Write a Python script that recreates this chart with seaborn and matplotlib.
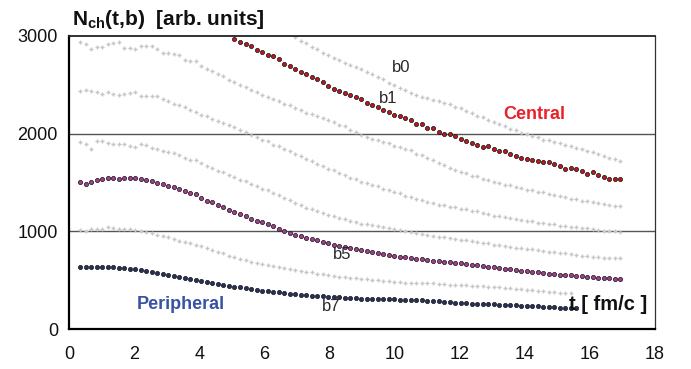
import numpy as np
import pandas as pd
import matplotlib
matplotlib.use("Agg")
import matplotlib.pyplot as plt
import seaborn as sns

# time grid in fm/c, one entry per dot
t = np.linspace(0.34, 16.94, 99)

# N_ch(t,b) for the impact parameter classes.
# b0 and b1 start above 3000 and only enter the frame later (start index).
b0_start = 39
b0 = [2990, 2950, 2925, 2885, 2862, 2826, 2805, 2774, 2758, 2727,
      2708, 2680, 2663, 2631, 2613, 2578, 2558, 2520, 2498, 2468,
      2452, 2418, 2398, 2372, 2362, 2343, 2336, 2316, 2300, 2272,
      2258, 2228, 2215, 2186, 2170, 2138, 2123, 2094, 2080, 2050,
      2038, 2010, 1998, 1973, 1965, 1940, 1933, 1910, 1903, 1881,
      1875, 1853, 1845, 1821, 1812, 1787, 1776, 1750, 1740, 1718]

b1_start = 28
b1 = [2973, 2939, 2922, 2902, 2861, 2837, 2810, 2792, 2762, 2717,
      2690, 2666, 2629, 2615, 2581, 2564, 2530, 2489, 2462, 2437,
      2421, 2400, 2376, 2352, 2315, 2298, 2274, 2240, 2223, 2189,
      2186, 2165, 2138, 2104, 2094, 2063, 2056, 2018, 2001, 1994,
      1977, 1950, 1930, 1909, 1889, 1861, 1872, 1838, 1824, 1820,
      1793, 1772, 1752, 1741, 1731, 1725, 1715, 1705, 1691, 1674,
      1636, 1646, 1636, 1616, 1592, 1603, 1572, 1555, 1537, 1537, 1534]

b2 = [2939, 2922, 2864, 2887, 2887, 2922, 2928, 2939, 2881, 2881,
      2871, 2894, 2894, 2894, 2871, 2830, 2826, 2820, 2802, 2751,
      2741, 2741, 2693, 2666,
      2640, 2606, 2588, 2552, 2530, 2498, 2480, 2448, 2430, 2396,
      2378, 2350, 2334, 2302, 2290, 2258, 2244, 2216, 2204, 2176,
      2164, 2136, 2122, 2090, 2074, 2040, 2022, 1988, 1970, 1948,
      1936, 1912, 1902, 1878, 1868, 1840, 1828, 1796, 1780, 1748,
      1730, 1696, 1680, 1648, 1630, 1606, 1596, 1570, 1562, 1536,
      1526, 1506, 1498, 1476, 1470, 1450, 1442, 1425, 1420, 1402,
      1398, 1380, 1376, 1358, 1352, 1334, 1330, 1315, 1310, 1296,
      1292, 1278, 1272, 1262, 1255]

b3 = [2434, 2452, 2434, 2427, 2410, 2427, 2410, 2393, 2410, 2417,
      2424, 2386, 2383, 2383, 2383, 2359, 2335, 2301, 2291, 2274,
      2247, 2223, 2189, 2179,
      2152, 2128, 2114, 2086, 2070, 2038, 2020, 1988, 1970, 1938,
      1920, 1888, 1872, 1840, 1824, 1792, 1774, 1742, 1724, 1692,
      1674, 1642, 1624, 1593, 1578, 1548, 1536, 1506, 1494, 1470,
      1460, 1437, 1427, 1402, 1390, 1366, 1356, 1330, 1320, 1298,
      1290, 1272, 1268, 1252, 1248, 1230, 1226, 1208, 1204, 1186,
      1180, 1162, 1160, 1142, 1138, 1122, 1118, 1104, 1102, 1088,
      1086, 1072, 1070, 1058, 1055, 1044, 1042, 1032, 1030, 1020,
      1018, 1008, 1006, 1000, 995]

b4 = [1916, 1892, 1848, 1923, 1923, 1906, 1899, 1892, 1899, 1872,
      1865, 1892, 1882, 1858, 1844, 1824, 1810, 1803, 1780, 1746,
      1729, 1729, 1701, 1667,
      1648, 1618, 1604, 1572, 1558, 1526, 1512, 1480, 1468, 1436,
      1424, 1390, 1374, 1340, 1324, 1288, 1272, 1244, 1230, 1204,
      1192, 1166, 1156, 1136, 1126, 1106, 1098, 1080, 1074, 1060,
      1054, 1040, 1034, 1020, 1014, 1000, 994, 980, 974, 962,
      956, 944, 940, 928, 924, 912, 908, 898, 892, 880,
      876, 864, 860, 848, 844, 834, 830, 820, 816, 806,
      802, 792, 788, 778, 774, 764, 760, 752, 748, 740,
      736, 730, 728, 724, 722]

b5 = [1503, 1480, 1503, 1524, 1534, 1551, 1544, 1537, 1547, 1551,
      1541, 1534, 1521, 1517, 1497, 1480, 1466, 1452, 1432, 1415,
      1394, 1381, 1345,
      1312, 1296, 1268, 1245, 1220, 1197, 1173, 1156, 1125, 1108,
      1094, 1074, 1050, 1023, 1002, 982, 961, 951, 934, 917,
      907, 893, 877, 862, 849, 839, 832, 818, 808, 795,
      784, 777, 764, 757, 747, 739, 733, 723, 716, 713, 706,
      700, 696, 690, 684, 678, 672, 665, 658, 651, 644,
      637, 630, 624, 617, 610, 603, 596, 590, 585, 579,
      573, 567, 562, 557, 553, 548, 544, 539, 535, 531,
      527, 523, 519, 515, 511]

b6 = [1013, 1002, 1019, 1019, 1019, 1040, 1033, 1019, 1026, 1019,
      1013, 999, 992, 985, 965, 951, 938, 917, 903, 890,
      876, 862, 849, 825,
      812, 790, 775, 750, 737, 718, 708, 690, 680, 663,
      655, 640, 634, 620, 614, 600, 596, 584, 579, 567,
      563, 551, 547, 536, 533, 522, 520, 510, 508, 499,
      497, 490, 488, 482, 481, 476, 475, 471, 470, 468,
      466, 462, 460, 455, 453, 449, 447, 443, 441, 436,
      435, 430, 428, 422, 419, 412, 409, 402, 399, 392,
      389, 382, 379, 373, 370, 365]

b7 = [631, 631, 631, 634, 638, 638, 631, 624, 621, 617,
      610, 604, 597, 587, 576, 566, 556, 545, 535, 525,
      515, 502, 490, 479,
      470, 461, 452, 443, 433, 425, 417, 409, 401, 393,
      386, 380, 374, 368, 362, 356, 351, 347, 343, 339,
      335, 331, 327, 324, 321, 318, 315, 312, 310, 308,
      306, 305, 304, 303, 302, 300, 298, 295, 292, 289,
      285, 282, 278, 275, 271, 267, 263, 261, 258, 256,
      253, 251, 248, 246, 243, 241, 238, 236, 233, 231,
      228, 225, 222, 219, 216, 213, 210]

series = [("b0", b0_start, b0), ("b1", b1_start, b1), ("b2", 0, b2),
          ("b3", 0, b3), ("b4", 0, b4), ("b5", 0, b5), ("b6", 0, b6),
          ("b7", 0, b7)]

parts = []
for name, start, vals in series:
    parts.append(pd.DataFrame({"t": t[start:start + len(vals)],
                               "N": vals, "b": name}))
df = pd.concat(parts, ignore_index=True)

highlight = {"b1": "#c0161d", "b5": "#a63d90", "b7": "#27305c"}

sns.set_theme(style="white")
plt.rcParams["font.family"] = ["Liberation Sans", "DejaVu Sans"]
plt.rcParams["mathtext.fontset"] = "custom"
plt.rcParams["mathtext.bf"] = "Liberation Sans:bold"
plt.rcParams["mathtext.rm"] = "Liberation Sans"

fig = plt.figure(figsize=(6.91, 3.69), dpi=100)
ax = fig.add_axes([69 / 691, 1 - 329 / 369, 586 / 691, 293 / 369])

for y in (1000, 2000):
    ax.axhline(y, color="#555555", lw=1.0, zorder=1)

gray = df[~df["b"].isin(highlight.keys())]
sns.scatterplot(data=gray, x="t", y="N", marker="+", color="#c6c6c6",
                s=8, linewidth=1.0, ax=ax, zorder=2, legend=False)

for name, col in highlight.items():
    sub = df[df["b"] == name]
    sns.scatterplot(data=sub, x="t", y="N", marker="o", color=col,
                    edgecolor="#1e1e1e", linewidth=0.55, s=9, ax=ax,
                    zorder=3, legend=False)

ax.set_xlim(0, 18)
ax.set_ylim(0, 3000)
ax.set_xticks(range(0, 19, 2))
ax.set_yticks([0, 1000, 2000, 3000])
ax.set_xlabel("")
ax.set_ylabel("")

for side in ("left", "bottom"):
    ax.spines[side].set_color("black")
    ax.spines[side].set_linewidth(1.6)
ax.spines["top"].set_color("#222222")
ax.spines["top"].set_linewidth(1.3)
ax.spines["right"].set_color("#333333")
ax.spines["right"].set_linewidth(0.9)

ax.tick_params(axis="both", direction="out", length=5, width=1.2,
               color="black", labelsize=13, labelcolor="#111111")
ax.tick_params(axis="x", pad=7)
ax.tick_params(axis="y", pad=3)

lab = dict(fontsize=12, color="#2a2a2a")
ax.text(9.93, 2629, "b0", **lab)
ax.text(9.53, 2311, "b1", **lab)
ax.text(8.11, 716, "b5", **lab)
ax.text(7.78, 184, "b7", **lab)

ax.text(13.34, 2155, "Central", fontsize=13, fontweight="bold",
        color="#e8222b")
ax.text(2.09, 201, "Peripheral", fontsize=13, fontweight="bold",
        color="#3953a4")
ax.text(15.37, 194, "t [ fm/c ]", fontsize=14.5, fontweight="bold",
        color="#111111")

fig.text(72 / 691, 1 - 25 / 369, r"$\mathbf{N_{ch}}$(t,b)  [arb. units]",
         fontsize=15, fontweight="bold", color="#111111")

fig.savefig("out.png", dpi=100)
